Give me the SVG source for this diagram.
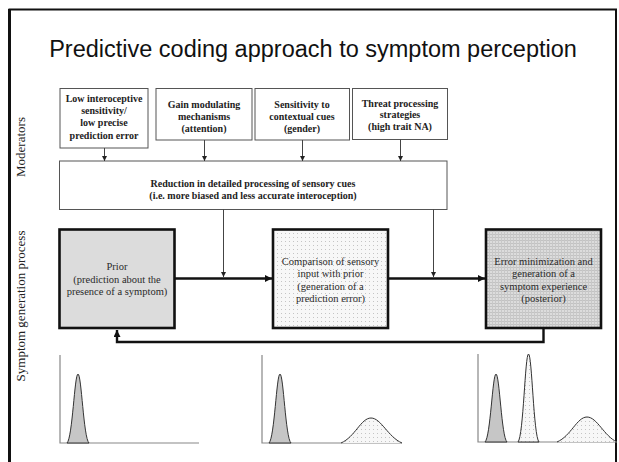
<svg xmlns="http://www.w3.org/2000/svg" width="619" height="462" viewBox="0 0 619 462">
<defs>
<style>
.title{font-family:"Liberation Sans",Arial,sans-serif;font-size:23.5px;fill:#111}
.side{font-family:"Liberation Serif","Times New Roman",serif;font-size:13px;fill:#222}
.mod{font-family:"Liberation Serif","Times New Roman",serif;font-size:10px;font-weight:bold;fill:#222;text-anchor:middle}
.proc{font-family:"Liberation Serif","Times New Roman",serif;font-size:10.5px;fill:#2a2a2a;text-anchor:middle}
.mbox{fill:#fff;stroke:#555;stroke-width:1}
.pbox{stroke:#111;stroke-width:2.6}
.thin{fill:none;stroke:#444;stroke-width:1}
.thick{fill:none;stroke:#111;stroke-width:2.4}
.axis{fill:none;stroke:#888;stroke-width:1.2}
.peak{fill:#c6c6c6;stroke:#333;stroke-width:1}
.bell{fill:url(#dots);stroke:#333;stroke-width:1}
</style>
<pattern id="dots" width="4" height="4" patternUnits="userSpaceOnUse">
<rect width="4" height="4" fill="#f7f7f7"/>
<rect x="1" y="1" width="1" height="1" fill="#c4c4c4"/>
</pattern>
<pattern id="grid" width="3" height="3" patternUnits="userSpaceOnUse">
<rect width="3" height="3" fill="#dcdcdc"/>
<rect x="0" y="0" width="3" height="1" fill="#c2c2c2"/>
<rect x="0" y="0" width="1" height="3" fill="#c8c8c8"/>
</pattern>
<marker id="ah" viewBox="0 0 6 6" refX="6" refY="3" markerWidth="5" markerHeight="5" markerUnits="userSpaceOnUse" orient="auto">
<path d="M0,0 L6,3 L0,6 Z" fill="#222"/>
</marker>
<marker id="ahb" viewBox="0 0 6 6" refX="6" refY="3" markerWidth="7" markerHeight="7" markerUnits="userSpaceOnUse" orient="auto">
<path d="M0,0 L6,3 L0,6 Z" fill="#111"/>
</marker>
</defs>

<rect width="619" height="462" fill="#fff"/>
<!-- outer frame -->
<path d="M9.5,470 L9.5,9.5 L616,9.5 L616,470" fill="none" stroke="#111" stroke-width="2"/>
<line x1="9.5" y1="9" x2="9.5" y2="470" stroke="#111" stroke-width="3"/>

<text class="title" x="313" y="57" text-anchor="middle">Predictive coding approach to symptom perception</text>

<text class="side" transform="translate(25,147) rotate(-90)" text-anchor="middle">Moderators</text>
<text class="side" transform="translate(25,306) rotate(-90)" text-anchor="middle">Symptom generation process</text>

<g id="mod1">
<rect class="mbox" x="60" y="88.5" width="88" height="59.5"/>
<text class="mod" x="104" y="102">Low interoceptive</text>
<text class="mod" x="104" y="114">sensitivity/</text>
<text class="mod" x="104" y="126">low precise</text>
<text class="mod" x="104" y="138.5">prediction error</text>
</g>
<g id="mod2">
<rect class="mbox" x="156" y="88.5" width="96" height="51.5"/>
<text class="mod" x="204" y="108">Gain modulating</text>
<text class="mod" x="204" y="120">mechanisms</text>
<text class="mod" x="204" y="132">(attention)</text>
</g>
<g id="mod3">
<rect class="mbox" x="255" y="88.5" width="94.5" height="51.5"/>
<text class="mod" x="302" y="108">Sensitivity to</text>
<text class="mod" x="302" y="120">contextual cues</text>
<text class="mod" x="302" y="132">(gender)</text>
</g>
<g id="mod4">
<rect class="mbox" x="352.5" y="88.5" width="95" height="51"/>
<text class="mod" x="400" y="107">Threat processing</text>
<text class="mod" x="400" y="118">strategies</text>
<text class="mod" x="400" y="129.5">(high trait NA)</text>
</g>
<g id="reduction">
<rect class="mbox" x="59.5" y="161" width="387.5" height="48.5"/>
<text class="mod" x="253" y="186.5">Reduction in detailed processing of sensory cues</text>
<text class="mod" x="253" y="199">(i.e. more biased and less accurate interoception)</text>
</g>

<g id="prior">
<rect class="pbox" x="59.5" y="229.5" width="115" height="98.5" fill="#dcdcdc"/>
<text class="proc" x="117" y="270">Prior</text>
<text class="proc" x="117" y="282.5">(prediction about the</text>
<text class="proc" x="117" y="295">presence of a symptom)</text>
</g>
<g id="comparison">
<rect class="pbox" x="273" y="229.5" width="115" height="98.5" fill="url(#dots)"/>
<text class="proc" x="330.5" y="264.5">Comparison of sensory</text>
<text class="proc" x="330.5" y="277">input with prior</text>
<text class="proc" x="330.5" y="289.5">(generation of a</text>
<text class="proc" x="330.5" y="302">prediction error)</text>
</g>
<g id="posterior">
<rect class="pbox" x="486" y="229.5" width="115" height="98.5" fill="url(#grid)"/>
<text class="proc" x="543.5" y="264.5">Error minimization and</text>
<text class="proc" x="543.5" y="277">generation of a</text>
<text class="proc" x="543.5" y="289.5">symptom experience</text>
<text class="proc" x="543.5" y="302">(posterior)</text>
</g>

<g id="connectors">
<line class="thin" x1="104.5" y1="148" x2="104.5" y2="161" marker-end="url(#ah)"/>
<line class="thin" x1="204.5" y1="140" x2="204.5" y2="161" marker-end="url(#ah)"/>
<line class="thin" x1="302.5" y1="140" x2="302.5" y2="161" marker-end="url(#ah)"/>
<line class="thin" x1="400.5" y1="139.5" x2="400.5" y2="161" marker-end="url(#ah)"/>
<line class="thin" x1="223.5" y1="209.5" x2="223.5" y2="277" marker-end="url(#ah)"/>
<line class="thin" x1="433.5" y1="209.5" x2="433.5" y2="277" marker-end="url(#ah)"/>
<line class="thick" x1="175" y1="278.5" x2="272" y2="278.5" marker-end="url(#ahb)"/>
<line class="thick" x1="389" y1="278.5" x2="485" y2="278.5" marker-end="url(#ahb)"/>
<path class="thick" d="M543.5,329 L543.5,342 L117,342 L117,330" marker-end="url(#ahb)"/>
</g>

<g id="chart1">
<path class="axis" d="M60,355 L60,443 L199,443"/>
<path class="peak" d="M67,443 C72.5,438 74.5,374 78,374 C81.5,374 83.5,438 89,443 Z"/>
</g>
<g id="chart2">
<path class="axis" d="M262,355 L262,443 L402,443"/>
<path class="peak" d="M269,443 C274.5,438 276.5,374 280,374 C283.5,374 285.5,438 291,443 Z"/>
<path class="bell" d="M341,443 C355,437 361,418 371,418 C381,418 388,437 402,443"/>
</g>
<g id="chart3">
<path class="axis" d="M478,354 L478,442 L617,442"/>
<path class="peak" d="M485,442 C490.5,437 492.5,374 496,374 C499.5,374 501.5,437 507,442 Z"/>
<path class="bell" d="M518,442 C523.5,436 525,354 528.5,354 C532,354 533.5,436 539,442 Z"/>
<path class="bell" d="M557,442 C571,436 577,417 587,417 C597,417 604,436 617,442"/>
</g>
</svg>
